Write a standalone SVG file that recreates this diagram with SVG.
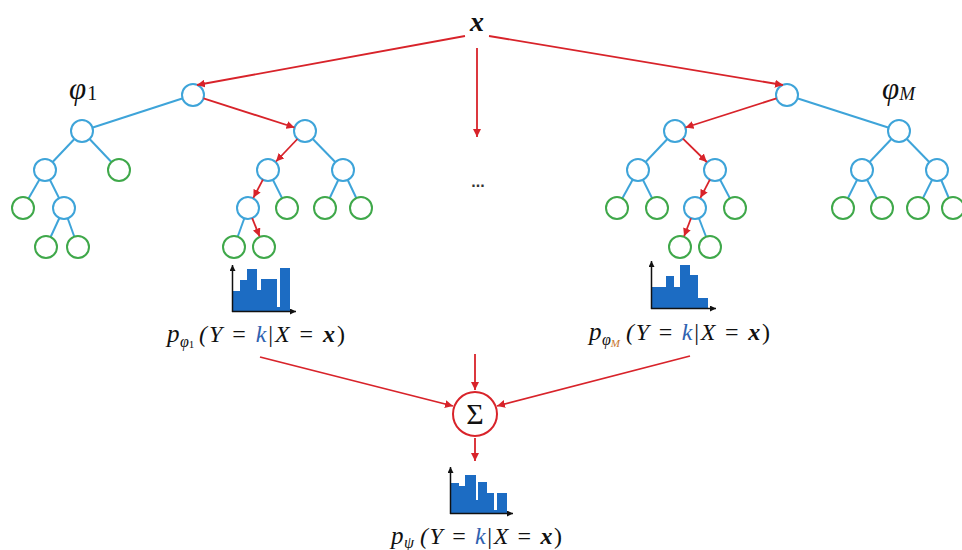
<svg xmlns="http://www.w3.org/2000/svg" width="962" height="550" viewBox="0 0 962 550">
<defs>
<marker id="ah" viewBox="0 0 10 10" refX="10" refY="5" markerWidth="8" markerHeight="8" markerUnits="userSpaceOnUse" orient="auto">
<path d="M0,0 L10,5 L0,10 Z" fill="#d8232a"/>
</marker>
<marker id="ak" viewBox="0 0 10 10" refX="10" refY="5" markerWidth="6" markerHeight="6" markerUnits="userSpaceOnUse" orient="auto">
<path d="M0,0 L10,5 L0,10 Z" fill="#111"/>
</marker>
<style>
.b{fill:#fff;stroke:#3ea4d9;stroke-width:2}
.g{fill:#fff;stroke:#3fa84a;stroke-width:2}
.e{stroke:#3ea4d9;stroke-width:2;fill:none}
.r{stroke:#d8232a;stroke-width:1.8;fill:none;marker-end:url(#ah)}
.bar{fill:#1c6cc3}
.ax{stroke:#111;stroke-width:1.5;fill:none;marker-end:url(#ak)}
.m{font-family:"Liberation Serif","DejaVu Serif",serif;font-style:italic;fill:#111}
.u{font-style:normal}
.k{fill:#2f62b0}
</style>
</defs>

<g id="tree-edges">
<line class="e" x1="193" y1="95" x2="82" y2="131"/>
<line class="e" x1="82" y1="131" x2="45" y2="170"/>
<line class="e" x1="82" y1="131" x2="119" y2="170"/>
<line class="e" x1="45" y1="170" x2="23" y2="208"/>
<line class="e" x1="45" y1="170" x2="64" y2="208"/>
<line class="e" x1="64" y1="208" x2="46" y2="247"/>
<line class="e" x1="64" y1="208" x2="78" y2="247"/>
<line class="e" x1="305" y1="131" x2="343" y2="170"/>
<line class="e" x1="268" y1="170" x2="287" y2="208"/>
<line class="e" x1="343" y1="170" x2="325" y2="208"/>
<line class="e" x1="343" y1="170" x2="361" y2="208"/>
<line class="e" x1="248" y1="208" x2="234" y2="247"/>
<line class="e" x1="787" y1="95" x2="899" y2="131"/>
<line class="e" x1="675" y1="131" x2="638" y2="170"/>
<line class="e" x1="638" y1="170" x2="617" y2="208"/>
<line class="e" x1="638" y1="170" x2="657" y2="208"/>
<line class="e" x1="715" y1="170" x2="735" y2="208"/>
<line class="e" x1="695" y1="208" x2="710" y2="247"/>
<line class="e" x1="899" y1="131" x2="862" y2="170"/>
<line class="e" x1="899" y1="131" x2="937" y2="170"/>
<line class="e" x1="862" y1="170" x2="843" y2="208"/>
<line class="e" x1="862" y1="170" x2="882" y2="208"/>
<line class="e" x1="937" y1="170" x2="918" y2="208"/>
<line class="e" x1="937" y1="170" x2="953" y2="208"/>
</g>

<g id="tree1">
<g id="t1n0"><circle class="b" cx="193" cy="95" r="11"/></g>
<g id="t1n1"><circle class="b" cx="82" cy="131" r="11"/></g>
<g id="t1n2"><circle class="b" cx="305" cy="131" r="11"/></g>
<g id="t1n3"><circle class="b" cx="45" cy="170" r="11"/></g>
<g id="t1n4"><circle class="g" cx="119" cy="170" r="11"/></g>
<g id="t1n5"><circle class="b" cx="268" cy="170" r="11"/></g>
<g id="t1n6"><circle class="b" cx="343" cy="170" r="11"/></g>
<g id="t1n7"><circle class="g" cx="23" cy="208" r="11"/></g>
<g id="t1n8"><circle class="b" cx="64" cy="208" r="11"/></g>
<g id="t1n9"><circle class="b" cx="248" cy="208" r="11"/></g>
<g id="t1n10"><circle class="g" cx="287" cy="208" r="11"/></g>
<g id="t1n11"><circle class="g" cx="325" cy="208" r="11"/></g>
<g id="t1n12"><circle class="g" cx="361" cy="208" r="11"/></g>
<g id="t1n13"><circle class="g" cx="46" cy="247" r="11"/></g>
<g id="t1n14"><circle class="g" cx="78" cy="247" r="11"/></g>
<g id="t1n15"><circle class="g" cx="234" cy="247" r="11"/></g>
<g id="t1n16"><circle class="g" cx="264" cy="247" r="11"/></g>
</g>

<g id="treeM">
<g id="tMn0"><circle class="b" cx="787" cy="95" r="11"/></g>
<g id="tMn1"><circle class="b" cx="675" cy="131" r="11"/></g>
<g id="tMn2"><circle class="b" cx="899" cy="131" r="11"/></g>
<g id="tMn3"><circle class="b" cx="638" cy="170" r="11"/></g>
<g id="tMn4"><circle class="b" cx="715" cy="170" r="11"/></g>
<g id="tMn5"><circle class="b" cx="862" cy="170" r="11"/></g>
<g id="tMn6"><circle class="b" cx="937" cy="170" r="11"/></g>
<g id="tMn7"><circle class="g" cx="617" cy="208" r="11"/></g>
<g id="tMn8"><circle class="g" cx="657" cy="208" r="11"/></g>
<g id="tMn9"><circle class="b" cx="695" cy="208" r="11"/></g>
<g id="tMn10"><circle class="g" cx="735" cy="208" r="11"/></g>
<g id="tMn11"><circle class="g" cx="843" cy="208" r="11"/></g>
<g id="tMn12"><circle class="g" cx="882" cy="208" r="11"/></g>
<g id="tMn13"><circle class="g" cx="918" cy="208" r="11"/></g>
<g id="tMn14"><circle class="g" cx="953" cy="208" r="11"/></g>
<g id="tMn15"><circle class="g" cx="680" cy="247" r="11"/></g>
<g id="tMn16"><circle class="g" cx="710" cy="247" r="11"/></g>
</g>

<g id="connectors">
<line class="r" x1="465" y1="36" x2="197" y2="85"/>
<line class="r" x1="489" y1="36" x2="783" y2="85"/>
<line class="r" x1="477" y1="48" x2="477" y2="137"/>
<line class="r" x1="203.5" y1="98.4" x2="294.5" y2="127.5"/>
<line class="r" x1="297.4" y1="139" x2="276" y2="161.5"/>
<line class="r" x1="262.9" y1="179.7" x2="253.4" y2="197.8"/>
<line class="r" x1="252.2" y1="218.2" x2="259.6" y2="236.4"/>
<line class="r" x1="776.5" y1="98.4" x2="685.5" y2="127.5"/>
<line class="r" x1="682.9" y1="138.7" x2="706.8" y2="162"/>
<line class="r" x1="709.9" y1="179.7" x2="700.4" y2="197.8"/>
<line class="r" x1="691" y1="218.3" x2="684.1" y2="236.3"/>
<line class="r" x1="260" y1="357" x2="453" y2="406"/>
<line class="r" x1="690" y1="356" x2="497" y2="406"/>
<line class="r" x1="475" y1="354" x2="475" y2="390"/>
<line class="r" x1="475" y1="438" x2="475" y2="461"/>
</g>

<g id="x-input"><text x="477" y="31" text-anchor="middle" class="m" font-size="28" font-weight="bold">x</text></g>
<g id="dots"><text x="478" y="187" text-anchor="middle" font-family="Liberation Sans, sans-serif" font-size="16" font-weight="bold" fill="#333">...</text></g>

<g id="label-phi1"><text x="69" y="99" class="m" font-size="31">φ<tspan font-size="20" class="u" dx="1" dy="1">1</tspan></text></g>
<g id="label-phiM"><text x="882" y="99" class="m" font-size="31">φ<tspan font-size="19" dx="0" dy="1">M</tspan></text></g>

<g id="hist1">
<path class="bar" d="M233,311 V291 H240 V280 H247 V269 H257 V290 H261 V279 H277 V307 H280 V268 H290 V311 Z"/>
<line class="ax" x1="232.5" y1="312" x2="232.5" y2="265"/>
<line class="ax" x1="232" y1="311.5" x2="296" y2="311.5"/>
</g>
<g id="histM">
<path class="bar" d="M652,308 V287 H666 V276 H674 V287 H680 V265 H690 V275 H698 V298 H708 V308 Z"/>
<line class="ax" x1="651.5" y1="309" x2="651.5" y2="261"/>
<line class="ax" x1="651" y1="308.5" x2="716" y2="308.5"/>
</g>
<g id="hist-psi">
<path class="bar" d="M451,513 V483 H459 V486 H465 V475 H476 V500 H478 V482 H487 V493 H494 V510 H497 V493 H507 V513 Z"/>
<line class="ax" x1="450.5" y1="514" x2="450.5" y2="467"/>
<line class="ax" x1="450" y1="513.5" x2="513" y2="513.5"/>
</g>

<g id="sum">
<circle cx="475" cy="414" r="22" fill="#fff" stroke="#d8232a" stroke-width="2"/>
<text x="475" y="424" text-anchor="middle" font-family="Liberation Serif, serif" font-size="30" fill="#111">Σ</text>
</g>

<g id="label-p1">
<text x="167" y="342" class="m" font-size="25">p</text>
<text x="180" y="347" class="m" font-size="16">φ<tspan class="u" font-size="11" dy="1">1</tspan></text>
<text x="199" y="342" class="m" font-size="24" textLength="146" lengthAdjust="spacing">(Y <tspan class="u">=</tspan> <tspan class="k">k</tspan><tspan class="u">|</tspan>X <tspan class="u">=</tspan> <tspan font-weight="bold">x</tspan><tspan class="u">)</tspan></text>
</g>
<g id="label-pM">
<text x="589" y="340" class="m" font-size="25">p</text>
<text x="602" y="345" class="m" font-size="16">φ<tspan font-size="11" dy="2" fill="#c7742a">M</tspan></text>
<text x="626" y="340" class="m" font-size="24" textLength="144" lengthAdjust="spacing">(Y <tspan class="u">=</tspan> <tspan class="k">k</tspan><tspan class="u">|</tspan>X <tspan class="u">=</tspan> <tspan font-weight="bold">x</tspan><tspan class="u">)</tspan></text>
</g>
<g id="label-psi">
<text x="391" y="544" class="m" font-size="25">p</text>
<text x="404" y="548" class="m" font-size="16">ψ</text>
<text x="420" y="544" class="m" font-size="24" textLength="142" lengthAdjust="spacing">(Y <tspan class="u">=</tspan> <tspan class="k">k</tspan><tspan class="u">|</tspan>X <tspan class="u">=</tspan> <tspan font-weight="bold">x</tspan><tspan class="u">)</tspan></text>
</g>
</svg>
